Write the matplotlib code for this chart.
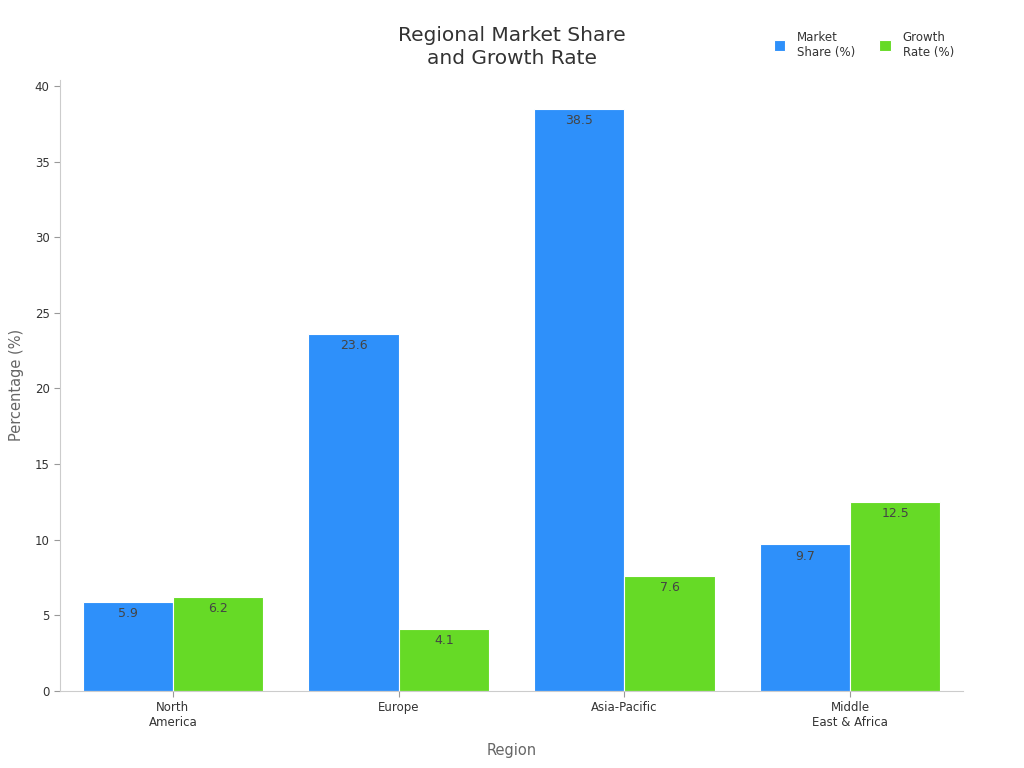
import matplotlib.pyplot as plt
import numpy as np

regions = ["North\nAmerica", "Europe", "Asia-Pacific", "Middle\nEast & Africa"]
market_share = [5.9, 23.6, 38.5, 9.7]
growth_rate = [6.2, 4.1, 7.6, 12.5]
series_names = ["Market\nShare (%)", "Growth\nRate (%)"]

blue = "#2E90FA"
green = "#66DA26"

fig = plt.figure(figsize=(10.24, 7.68), dpi=100)
ax = fig.add_axes([0.0586, 0.1003, 0.8818, 0.7957])

x = np.arange(len(regions))
w = 0.4
b1 = ax.bar(x - w / 2, market_share, w, color=blue, edgecolor="white", linewidth=0.8, label=series_names[0])
b2 = ax.bar(x + w / 2, growth_rate, w, color=green, edgecolor="white", linewidth=0.8, label=series_names[1])

for bars in (b1, b2):
    for rect in bars:
        h = rect.get_height()
        ax.text(rect.get_x() + rect.get_width() / 2, h - 0.35, f"{h:.1f}",
                ha="center", va="top", fontsize=9, color="#444444")

ax.set_xlim(-0.5, 3.5)
ax.set_ylim(0, 40.4)
ax.set_xticks(x)
ax.set_xticklabels(regions, fontsize=8.5, color="#333333")
ax.set_yticks(np.arange(0, 41, 5))
ax.tick_params(axis="y", labelsize=8.5, labelcolor="#333333", color="#999999", length=4)
ax.tick_params(axis="x", color="#999999", length=4)

for s in ("top", "right"):
    ax.spines[s].set_visible(False)
for s in ("left", "bottom"):
    ax.spines[s].set_color("#cccccc")

ax.set_xlabel("Region", fontsize=10.5, color="#666666", labelpad=10)
ax.set_ylabel("Percentage (%)", fontsize=10.5, color="#666666", labelpad=8)

fig.text(0.5, 0.939, "Regional Market Share\nand Growth Rate", ha="center", va="center",
         fontsize=14.5, color="#333333", linespacing=1.3)

fig.legend(loc="upper right", bbox_to_anchor=(0.942, 0.974), ncol=2, frameon=False,
           fontsize=8.5, handlelength=1.0, handleheight=1.0, handletextpad=1.0,
           columnspacing=2.0, labelcolor="#333333")

fig.savefig("out.png", dpi=100)
